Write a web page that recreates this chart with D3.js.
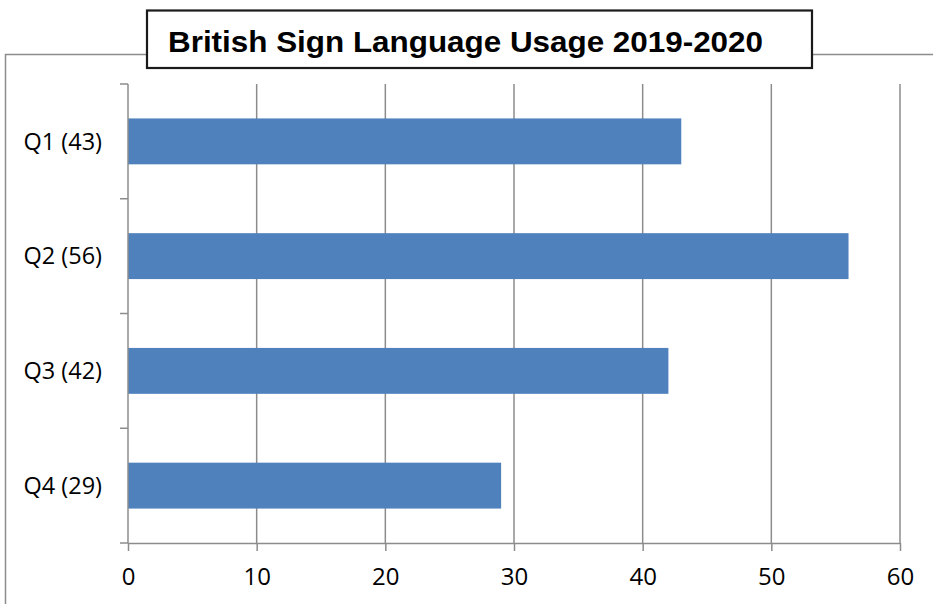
<!DOCTYPE html>
<html>
<head>
<meta charset="utf-8">
<script src="https://cdn.jsdelivr.net/npm/d3@7"></script>
<style>
  body { margin: 0; background: #fff; }
  svg { display: block; }
</style>
</head>
<body>
<svg id="chart" width="933" height="604"></svg>
<script>
// chart data
var categories = ['Q1 (43)', 'Q2 (56)', 'Q3 (42)', 'Q4 (29)'];
var usage = [43, 56, 42, 29];
var xTicks = [0, 10, 20, 30, 40, 50, 60];
var title = 'British Sign Language Usage 2019-2020';

var svg = d3.select('#chart');
var gridColor = '#8c8c8c';

var plot = { left: 128, right: 900, top: 84, bottom: 543 };

// outer chart border (runs off the right and bottom edges)
svg.append('rect')
  .attr('x', 5.5).attr('y', 54.5)
  .attr('width', 960).attr('height', 600)
  .attr('fill', 'none')
  .attr('stroke', gridColor)
  .attr('stroke-width', 1.5);

var x = d3.scaleLinear().domain([0, 60]).range([plot.left, plot.right]);
var y = d3.scaleBand().domain(categories).range([plot.top, plot.bottom])
  .paddingInner(0.6).paddingOuter(0.3);

// vertical gridlines
svg.append('g').selectAll('line')
  .data(xTicks.slice(1))
  .join('line')
  .attr('x1', function (d) { return x(d); })
  .attr('x2', function (d) { return x(d); })
  .attr('y1', plot.top)
  .attr('y2', plot.bottom)
  .attr('stroke', gridColor)
  .attr('stroke-width', 1.5);

// bars
svg.append('g').selectAll('rect')
  .data(usage)
  .join('rect')
  .attr('x', x(0))
  .attr('y', function (d, i) { return y(categories[i]); })
  .attr('width', function (d) { return x(d) - x(0); })
  .attr('height', y.bandwidth())
  .attr('fill', '#4f81bd');

// x axis
var xAxis = svg.append('g')
  .attr('transform', 'translate(0,' + plot.bottom + ')')
  .call(d3.axisBottom(x).tickValues(xTicks).tickSize(8).tickSizeOuter(0).tickPadding(17));
xAxis.select('.domain').attr('stroke', gridColor).attr('stroke-width', 1.5);
xAxis.selectAll('.tick line').attr('stroke', gridColor).attr('stroke-width', 1.5);
xAxis.selectAll('text')
  .attr('fill', '#000')
  .style('font-family', '"Open Sans", sans-serif')
  .style('font-size', '24px');

// y axis with category dividers
var yEdges = d3.range(categories.length + 1).map(function (i) {
  return plot.top + i * (plot.bottom - plot.top) / categories.length;
});
var yAxis = svg.append('g');
yAxis.append('line')
  .attr('x1', plot.left).attr('x2', plot.left)
  .attr('y1', plot.top).attr('y2', plot.bottom)
  .attr('stroke', gridColor).attr('stroke-width', 1.5);
yAxis.selectAll('line.div')
  .data(yEdges)
  .join('line')
  .attr('class', 'div')
  .attr('x1', plot.left - 8).attr('x2', plot.left)
  .attr('y1', function (d) { return d; })
  .attr('y2', function (d) { return d; })
  .attr('stroke', gridColor).attr('stroke-width', 1.5);
yAxis.selectAll('text')
  .data(categories)
  .join('text')
  .attr('x', plot.left - 26)
  .attr('y', function (d) { return y(d) + y.bandwidth() / 2; })
  .attr('dy', '0.35em')
  .attr('text-anchor', 'end')
  .style('font-family', '"Open Sans", sans-serif')
  .style('font-size', '23.5px')
  .text(function (d) { return d; });

// title box
svg.append('rect')
  .attr('x', 147).attr('y', 10.5)
  .attr('width', 665).attr('height', 57.5)
  .attr('fill', '#fff')
  .attr('stroke', '#1a1a1a')
  .attr('stroke-width', 2.2);
svg.append('text')
  .attr('x', 168).attr('y', 52)
  .attr('textLength', 595)
  .attr('lengthAdjust', 'spacingAndGlyphs')
  .style('font-family', '"Liberation Sans", Arial, sans-serif')
  .style('font-weight', 'bold')
  .style('font-size', '29px')
  .text(title);
</script>
</body>
</html>
